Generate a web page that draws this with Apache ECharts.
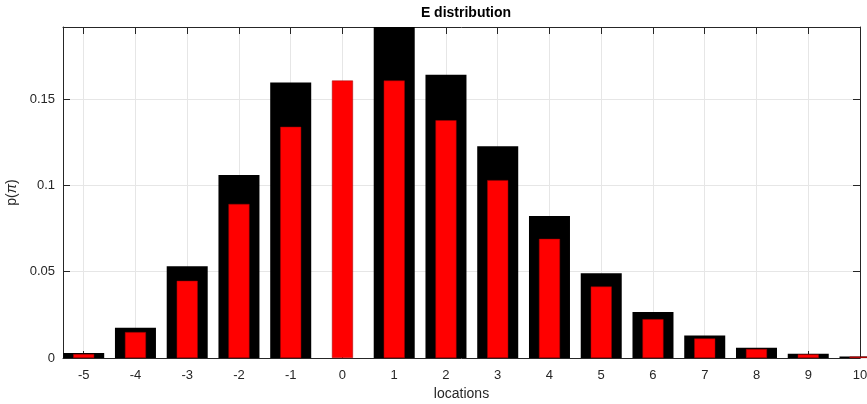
<!DOCTYPE html>
<html>
<head>
<meta charset="utf-8">
<script src="https://cdn.jsdelivr.net/npm/echarts@6/dist/echarts.min.js"></script>
<style>html,body{margin:0;padding:0;background:#fff}#c{width:867px;height:404px}</style>
</head>
<body>
<div id="c"></div>
<script>
var locations = [-5,-4,-3,-2,-1,0,1,2,3,4,5,6,7,8,9,10];
var blackValues = [0.0029,0.0175,0.0532,0.106,0.1595,0,0.21,0.164,0.1227,0.0823,0.0491,0.0266,0.0131,0.006,0.0025,0.0009];
var redValues = [0.0023,0.015,0.0447,0.0892,0.1339,0.1607,0.1607,0.1377,0.103,0.069,0.0414,0.0225,0.0113,0.0052,0.0021,0.0008];
var xTicks = [-5,-4,-3,-2,-1,0,1,2,3,4,5,6,7,8,9,10];

var txt = '#262626';
var font = 'Liberation Sans, Arial, sans-serif';
function pairs(vals){ return locations.map(function(x,i){ return [x, vals[i]]; }); }

var chart = echarts.init(document.getElementById('c'), null, {renderer:'canvas'});
chart.setOption({
  animation:false,
  title:{text:'E distribution', left:461, textAlign:'center', top:1,
    textStyle:{fontFamily:font, fontSize:14, fontWeight:'bold', color:'#000'}},
  grid:{left:63, right:7, top:27, bottom:46, containLabel:false, outerBoundsMode:'none'},
  xAxis:[{
    type:'value', min:-5.4, max:10, position:'bottom',
    name:'locations', nameLocation:'middle', nameGap:27,
    nameTextStyle:{fontFamily:font, fontSize:14, color:txt},
    axisLine:{onZero:false, lineStyle:{color:txt, width:1}},
    axisTick:{inside:true, length:7, customValues:xTicks, lineStyle:{color:txt}},
    axisLabel:{customValues:xTicks, fontFamily:font, fontSize:13, color:txt, margin:11, showMinLabel:true, showMaxLabel:true},
    splitLine:{show:true, lineStyle:{color:'#e6e6e6', width:1}}
  },{
    type:'value', min:-5.4, max:10, position:'top',
    axisLine:{onZero:false, lineStyle:{color:txt, width:1}},
    axisTick:{inside:true, length:7, customValues:xTicks, lineStyle:{color:txt}},
    axisLabel:{show:false},
    splitLine:{show:false}
  }],
  yAxis:[{
    type:'value', min:0, max:0.1917, interval:0.05, position:'left',
    name:'{n|p(}{g|π}{n|)}', nameLocation:'middle', nameGap:31,
    nameTextStyle:{rich:{n:{fontFamily:font, fontSize:14, color:txt}, g:{fontFamily:font, fontSize:14, fontStyle:'italic', color:txt}}},
    axisLine:{show:true, onZero:false, lineStyle:{color:txt, width:1}},
    axisTick:{show:true, inside:true, length:7, lineStyle:{color:txt}},
    axisLabel:{fontFamily:font, fontSize:13, color:txt, margin:8, showMaxLabel:false},
    splitLine:{show:true, lineStyle:{color:'#e6e6e6', width:1}}
  },{
    type:'value', min:0, max:0.1917, interval:0.05, position:'right',
    axisLine:{show:true, onZero:false, lineStyle:{color:txt, width:1}},
    axisTick:{show:true, inside:true, length:7, lineStyle:{color:txt}},
    axisLabel:{show:false},
    splitLine:{show:false}
  }],
  series:[{
    type:'bar', name:'E', xAxisIndex:0, yAxisIndex:0, data:pairs(blackValues),
    barWidth:41, clip:true,
    itemStyle:{color:'#000', borderWidth:0}
  },{
    type:'bar', name:'pi', xAxisIndex:1, yAxisIndex:0, data:pairs(redValues),
    barWidth:21, clip:true,
    itemStyle:{color:'#ff0000', borderColor:'#a00000', borderWidth:0.5}
  }]
});
</script>
</body>
</html>
